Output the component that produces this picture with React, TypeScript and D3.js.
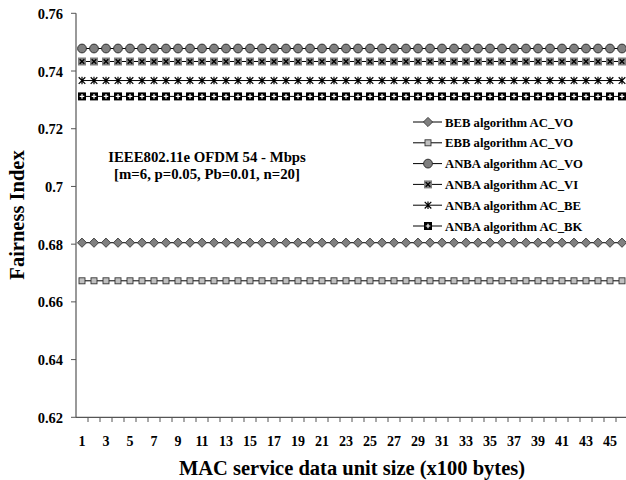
import React from "react";
import * as d3 from "d3";

const categories = [1,2,3,4,5,6,7,8,9,10,11,12,13,14,15,16,17,18,19,20,21,22,23,24,25,26,27,28,29,30,31,32,33,34,35,36,37,38,39,40,41,42,43,44,45,46];
const xTickLabels = [1,3,5,7,9,11,13,15,17,19,21,23,25,27,29,31,33,35,37,39,41,43,45];
const yTicks = [0.62,0.64,0.66,0.68,0.70,0.72,0.74,0.76];
const yTickLabels = ["0.62","0.64","0.66","0.68","0.7","0.72","0.74","0.76"];

const bebVO = [0.6805,0.6805,0.6805,0.6805,0.6805,0.6805,0.6805,0.6805,0.6805,0.6805,0.6805,0.6805,0.6805,0.6805,0.6805,0.6805,0.6805,0.6805,0.6805,0.6805,0.6805,0.6805,0.6805,0.6805,0.6805,0.6805,0.6805,0.6805,0.6805,0.6805,0.6805,0.6805,0.6805,0.6805,0.6805,0.6805,0.6805,0.6805,0.6805,0.6805,0.6805,0.6805,0.6805,0.6805,0.6805,0.6805];
const ebbVO = [0.6673,0.6673,0.6673,0.6673,0.6673,0.6673,0.6673,0.6673,0.6673,0.6673,0.6673,0.6673,0.6673,0.6673,0.6673,0.6673,0.6673,0.6673,0.6673,0.6673,0.6673,0.6673,0.6673,0.6673,0.6673,0.6673,0.6673,0.6673,0.6673,0.6673,0.6673,0.6673,0.6673,0.6673,0.6673,0.6673,0.6673,0.6673,0.6673,0.6673,0.6673,0.6673,0.6673,0.6673,0.6673,0.6673];
const anbaVO = [0.7478,0.7478,0.7478,0.7478,0.7478,0.7478,0.7478,0.7478,0.7478,0.7478,0.7478,0.7478,0.7478,0.7478,0.7478,0.7478,0.7478,0.7478,0.7478,0.7478,0.7478,0.7478,0.7478,0.7478,0.7478,0.7478,0.7478,0.7478,0.7478,0.7478,0.7478,0.7478,0.7478,0.7478,0.7478,0.7478,0.7478,0.7478,0.7478,0.7478,0.7478,0.7478,0.7478,0.7478,0.7478,0.7478];
const anbaVI = [0.7433,0.7433,0.7433,0.7433,0.7433,0.7433,0.7433,0.7433,0.7433,0.7433,0.7433,0.7433,0.7433,0.7433,0.7433,0.7433,0.7433,0.7433,0.7433,0.7433,0.7433,0.7433,0.7433,0.7433,0.7433,0.7433,0.7433,0.7433,0.7433,0.7433,0.7433,0.7433,0.7433,0.7433,0.7433,0.7433,0.7433,0.7433,0.7433,0.7433,0.7433,0.7433,0.7433,0.7433,0.7433,0.7433];
const anbaBE = [0.7367,0.7367,0.7367,0.7367,0.7367,0.7367,0.7367,0.7367,0.7367,0.7367,0.7367,0.7367,0.7367,0.7367,0.7367,0.7367,0.7367,0.7367,0.7367,0.7367,0.7367,0.7367,0.7367,0.7367,0.7367,0.7367,0.7367,0.7367,0.7367,0.7367,0.7367,0.7367,0.7367,0.7367,0.7367,0.7367,0.7367,0.7367,0.7367,0.7367,0.7367,0.7367,0.7367,0.7367,0.7367,0.7367];
const anbaBK = [0.7312,0.7312,0.7312,0.7312,0.7312,0.7312,0.7312,0.7312,0.7312,0.7312,0.7312,0.7312,0.7312,0.7312,0.7312,0.7312,0.7312,0.7312,0.7312,0.7312,0.7312,0.7312,0.7312,0.7312,0.7312,0.7312,0.7312,0.7312,0.7312,0.7312,0.7312,0.7312,0.7312,0.7312,0.7312,0.7312,0.7312,0.7312,0.7312,0.7312,0.7312,0.7312,0.7312,0.7312,0.7312,0.7312];

const seriesNames = ["BEB algorithm AC_VO","EBB algorithm AC_VO","ANBA algorithm AC_VO","ANBA algorithm AC_VI","ANBA algorithm AC_BE","ANBA algorithm AC_BK"];
const seriesValues = [bebVO, ebbVO, anbaVO, anbaVI, anbaBE, anbaBK];
const seriesMarkers = ["diamond","smallSquare","circle","squareX","star","squarePlus"];

const FONT = "'Liberation Serif', 'Times New Roman', serif";

function Marker({ type, x, y }: { type: string; x: number; y: number }) {
  switch (type) {
    case "diamond":
      return <path d={`M${x},${y-4.6}L${x+4.6},${y}L${x},${y+4.6}L${x-4.6},${y}Z`} fill="#808080" stroke="#333" strokeWidth={0.9} />;
    case "smallSquare":
      return <rect x={x-3} y={y-3} width={6} height={6} fill="#c0c0c0" stroke="#333" strokeWidth={0.9} />;
    case "circle":
      return <circle cx={x} cy={y} r={4.4} fill="#808080" stroke="#222" strokeWidth={0.9} />;
    case "squareX":
      return (
        <g>
          <rect x={x-4} y={y-4} width={8} height={8} fill="#808080" />
          <path d={`M${x-2.3},${y-2.3}L${x+2.3},${y+2.3}M${x+2.3},${y-2.3}L${x-2.3},${y+2.3}`} stroke="#000" strokeWidth={1.3} />
        </g>
      );
    case "star":
      return <path d={`M${x-3.3},${y-3.3}L${x+3.3},${y+3.3}M${x+3.3},${y-3.3}L${x-3.3},${y+3.3}M${x},${y-3.8}L${x},${y+3.8}`} stroke="#000" strokeWidth={1.2} fill="none" />;
    case "squarePlus":
      return (
        <g>
          <rect x={x-4} y={y-4} width={8} height={8} fill="#000" />
          <path d={`M${x-2.3},${y}L${x+2.3},${y}M${x},${y-2.3}L${x},${y+2.3}`} stroke="#fff" strokeWidth={1.2} />
        </g>
      );
  }
  return null;
}

export default function App() {
  const W = 626, H = 480;
  const x = d3.scaleBand<number>().domain(categories).range([76, 628]);
  const y = d3.scaleLinear().domain([0.62, 0.76]).range([417.3, 13.3]);
  const cx = (c: number) => (x(c) as number) + x.bandwidth() / 2;
  const line = d3.line<number>().x((_, i) => cx(categories[i])).y((v) => y(v));

  const legendX = 413, legendY0 = 122, legendDy = 20.8;

  return (
    <svg width={W} height={H} style={{ position: "absolute", left: 0, top: 0 }} fontFamily={FONT} fontWeight="bold">
      <rect width={W} height={H} fill="#fff" />
      {/* axes */}
      <line x1={76} y1={13.3} x2={76} y2={417.3} stroke="#777" strokeWidth={1.5} />
      <line x1={76} y1={417.3} x2={628} y2={417.3} stroke="#555" strokeWidth={1.2} />
      {yTicks.map((t, i) => (
        <g key={t}>
          <line x1={71} x2={76} y1={y(t)} y2={y(t)} stroke="#555" strokeWidth={1} />
          <text x={63} y={y(t) + 5.5} textAnchor="end" fontSize={14.5}>{yTickLabels[i]}</text>
        </g>
      ))}
      {categories.map((c) => (
        <line key={c} x1={(x(c) as number) + x.bandwidth()} x2={(x(c) as number) + x.bandwidth()} y1={417.3} y2={422} stroke="#555" strokeWidth={1} />
      ))}
      {xTickLabels.map((c) => (
        <text key={c} x={cx(c)} y={446} textAnchor="middle" fontSize={14}>{c}</text>
      ))}
      <text x={352} y={475} textAnchor="middle" fontSize={20.5}>MAC service data unit size (x100 bytes)</text>
      <text transform="translate(24,215) rotate(-90)" textAnchor="middle" fontSize={20.5}>Fairness Index</text>

      {/* series */}
      {seriesValues.map((vals, si) => (
        <g key={si}>
          <path d={line(vals) || ""} fill="none" stroke="#000" strokeWidth={1} />
          {vals.map((v, i) => (
            <Marker key={i} type={seriesMarkers[si]} x={cx(categories[i])} y={y(v)} />
          ))}
        </g>
      ))}

      {/* annotation */}
      <text x={207} y={162} textAnchor="middle" fontSize={14.8}>IEEE802.11e OFDM 54 - Mbps</text>
      <text x={207} y={179} textAnchor="middle" fontSize={14.8}>[m=6, p=0.05, Pb=0.01, n=20]</text>

      {/* legend */}
      {seriesNames.map((name, i) => {
        const ly = legendY0 + i * legendDy;
        return (
          <g key={name}>
            <line x1={legendX} x2={legendX + 29} y1={ly} y2={ly} stroke="#000" strokeWidth={1} />
            <Marker type={seriesMarkers[i]} x={legendX + 15} y={ly} />
            <text x={legendX + 32} y={ly + 4.5} fontSize={12.7}>{name}</text>
          </g>
        );
      })}
    </svg>
  );
}
